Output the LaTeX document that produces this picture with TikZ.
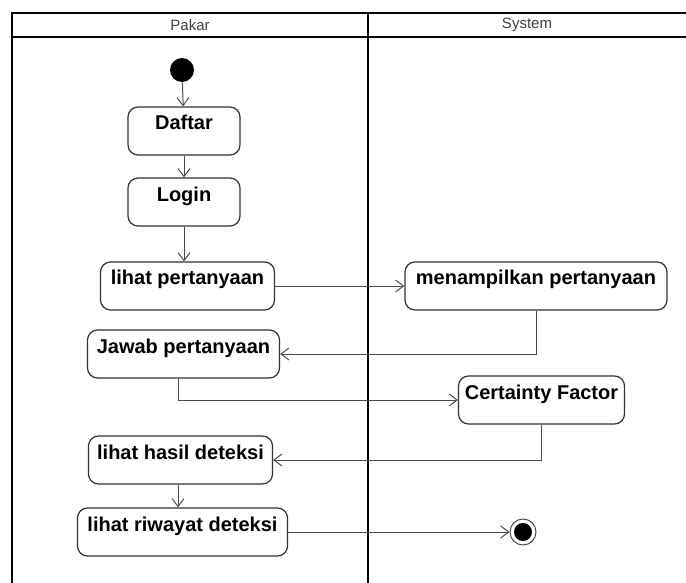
\documentclass[tikz,border=0pt]{standalone}
\usepackage{fontspec}
\setmainfont{Liberation Sans}
\usetikzlibrary{arrows.meta}

\begin{document}
\begin{tikzpicture}[x=0.5pt,y=-0.5pt,
    act/.style={draw=black!80, line width=0.6pt, rounded corners=5pt, font=\bfseries\fontsize{10}{12}\selectfont,
        inner sep=3pt, text height=8.5pt, text depth=9.5pt, align=left},
    flow/.style={draw=black!70, line width=0.5pt, -{Straight Barb[length=4pt,width=6pt]}},
    lane/.style={font=\fontsize{7.5}{9}\selectfont, text=black!75}]
\useasboundingbox (0,0) rectangle (686,583);

% swimlanes
\draw[line width=1pt] (12,590) -- (12,13) -- (690,13);
\draw[line width=1pt] (12,37) -- (690,37);
\draw[line width=1pt] (368,13) -- (368,590);
\node[lane] (pakar)  at (190,25) {Pakar};
\node[lane] (system) at (527,25) {System};

% start and end
\node[circle, fill=black, minimum size=12pt, inner sep=0pt] (start) at (182,70) {};
\node[circle, draw=black!70, line width=0.5pt, minimum size=13pt, inner sep=0pt] (akhir) at (523,532) {};
\node[circle, fill=black, minimum size=9pt, inner sep=0pt] (akhirdot) at (akhir) {};

% activities
\node[act, minimum width=56pt]    (daftar)  at (184,131)   {Daftar};
\node[act, minimum width=56pt]    (login)   at (184,202)   {Login};
\node[act, minimum width=87pt]    (lihat)   at (187.5,286) {lihat pertanyaan};
\node[act, minimum width=131pt]   (tampil)  at (536,286)   {menampilkan pertanyaan};
\node[act, minimum width=96pt]    (jawab)   at (183.5,354) {Jawab pertanyaan};
\node[act, minimum width=83pt]    (cf)      at (541.5,400) {Certainty Factor};
\node[act, minimum width=92pt]    (hasil)   at (180.5,460) {lihat hasil deteksi};
\node[act, minimum width=105pt]   (riwayat) at (182.5,532) {lihat riwayat deteksi};

% flows
\draw[flow] (start) -- (daftar);
\draw[flow] (daftar) -- (login);
\draw[flow] (login) -- (lihat.north -| login);
\draw[flow] (lihat) -- (tampil);
\draw[flow] (tampil.south) |- (jawab.east);
\draw[flow] (jawab.south -| 178,0) |- (cf.west);
\draw[flow] (cf.south) |- (hasil.east);
\draw[flow] (hasil.south -| 178,0) -- (riwayat.north -| 178,0);
\draw[flow] (riwayat) -- (akhir);

\end{tikzpicture}
\end{document}
